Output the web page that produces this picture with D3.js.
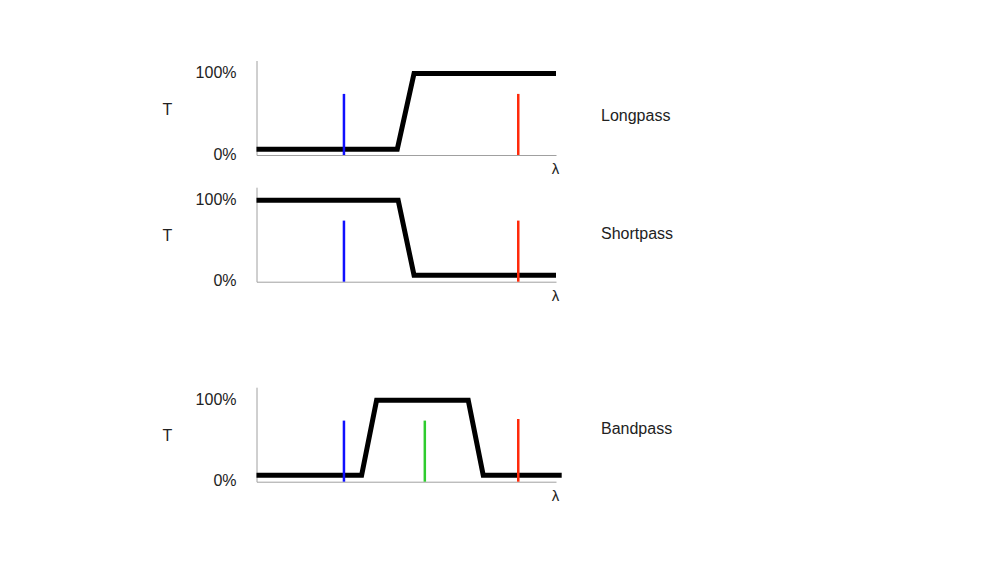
<!DOCTYPE html>
<html>
<head>
<meta charset="utf-8">
<script src="https://cdn.jsdelivr.net/npm/d3@7"></script>
<style>
  html, body { margin: 0; padding: 0; background: #ffffff; }
  svg { display: block; }
  text { font-family: "Liberation Sans", Arial, sans-serif; fill: #222; }
</style>
</head>
<body>
<svg id="chart" width="1000" height="563"></svg>
<script>
// ---- data ----
const panelNames = ["Longpass", "Shortpass", "Bandpass"];
const yTickValues = [0, 100];
const yTickLabels = ["0%", "100%"];
const yAxisTitle = "T";
const xAxisTitle = "λ";

const longpassX = [0, 47, 52.6, 100];
const longpassT = [7, 7, 100, 100];
const shortpassX = [0, 47.3, 52.6, 100];
const shortpassT = [100, 100, 8, 8];
const bandpassX = [0, 35.1, 40.1, 70.7, 75.7, 101.9];
const bandpassT = [8, 8, 100, 100, 8, 8];

const lineNames = ["blue", "green", "red"];
const lineX = [29.2, 56.2, 87.4];
const longpassLines = [75, null, 75];
const shortpassLines = [75, null, 75];
const bandpassLines = [75, 75, 77];

// ---- layout ----
const svg = d3.select("#chart");
const lineColors = { blue: "#1010ff", green: "#2ecc2e", red: "#ff2a0a" };
const panels = [
  { name: panelNames[0], xs: longpassX, ts: longpassT, lines: longpassLines, bottom: 155, labelY: 121 },
  { name: panelNames[1], xs: shortpassX, ts: shortpassT, lines: shortpassLines, bottom: 281.7, labelY: 239 },
  { name: panelNames[2], xs: bandpassX, ts: bandpassT, lines: bandpassLines, bottom: 481.7, labelY: 434.3 }
];

const x = d3.scaleLinear().domain([0, 100]).range([256.5, 556]);

panels.forEach(p => {
  const y = d3.scaleLinear().domain([0, 116]).range([p.bottom, p.bottom - 94.5]);
  const g = svg.append("g");

  // y axis
  const yAxis = d3.axisLeft(y)
    .tickValues(yTickValues)
    .tickFormat((d, i) => yTickLabels[i])
    .tickSize(0).tickSizeOuter(0).tickPadding(20);
  const ya = g.append("g").attr("transform", `translate(${x(0)},0)`).call(yAxis);
  ya.select(".domain").attr("stroke", "#a0a0a0").attr("stroke-width", 1);
  ya.selectAll("text")
    .attr("dy", "0.25em")
    .style("font-size", "16px")
    .style("font-family", "'Liberation Sans', Arial, sans-serif")
    .attr("fill", "#222");

  // x axis
  const xAxis = d3.axisBottom(x).tickValues([]).tickSizeOuter(0);
  const xa = g.append("g").attr("transform", `translate(0,${p.bottom})`).call(xAxis);
  xa.select(".domain").attr("stroke", "#a0a0a0").attr("stroke-width", 1);

  // transmission curve
  const pts = p.xs.map((v, i) => [v, p.ts[i]]);
  g.append("path")
    .datum(pts)
    .attr("fill", "none")
    .attr("stroke", "#000")
    .attr("stroke-width", 5)
    .attr("stroke-linejoin", "miter")
    .attr("d", d3.line().x(d => x(d[0])).y(d => y(d[1])));

  // spectral lines
  lineNames.forEach((n, i) => {
    if (p.lines[i] == null) return;
    g.append("line")
      .attr("x1", x(lineX[i])).attr("x2", x(lineX[i]))
      .attr("y1", y(0)).attr("y2", y(p.lines[i]))
      .attr("stroke", lineColors[n])
      .attr("stroke-width", 2.5);
  });

  // axis titles
  g.append("text")
    .attr("x", 167.5).attr("y", p.bottom - 40.5)
    .attr("text-anchor", "middle")
    .style("font-size", "16px")
    .text(yAxisTitle);
  g.append("text")
    .attr("x", 555.5).attr("y", p.bottom + 19)
    .attr("text-anchor", "middle")
    .style("font-size", "15px")
    .text(xAxisTitle);

  // panel label
  g.append("text")
    .attr("x", 601).attr("y", p.labelY)
    .style("font-size", "16px")
    .text(p.name);
});
</script>
</body>
</html>
